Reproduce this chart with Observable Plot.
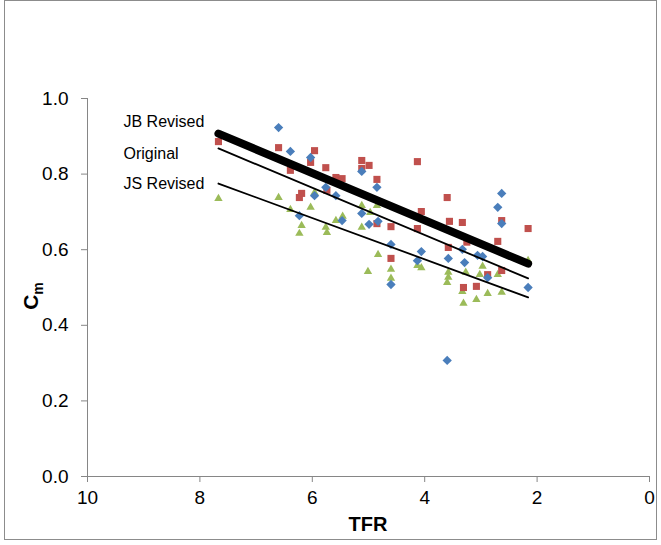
<!DOCTYPE html>
<html>
<head>
<meta charset="utf-8">
<script src="https://cdn.jsdelivr.net/npm/d3@7"></script>
<script src="https://cdn.jsdelivr.net/npm/@observablehq/plot@0.6"></script>
<style>
  body { margin: 0; background: #fff; }
  #wrap { position: relative; width: 661px; height: 545px; }
  #border { position: absolute; left: 4px; top: 0px; width: 653px; height: 540px; border: 1px solid #8c8c8c; box-sizing: border-box; pointer-events: none; }
  svg { display: block; }
</style>
</head>
<body>
<div id="wrap"></div>
<script>
// ---- data ----
const blueX = [6.60,6.39,6.03,6.23,5.76,5.58,5.96,5.47,5.12,5.12,4.85,4.99,4.83,4.60,4.60,4.06,4.13,3.58,3.33,3.29,3.06,2.97,2.88,2.16,2.63,2.70,2.63,3.60];
const blueY = [0.923,0.860,0.844,0.690,0.765,0.743,0.743,0.677,0.696,0.807,0.765,0.667,0.675,0.614,0.508,0.595,0.571,0.577,0.601,0.566,0.585,0.582,0.526,0.500,0.749,0.712,0.669,0.307];

const redX = [7.67,6.60,6.39,6.23,6.19,6.03,5.96,5.76,5.58,5.47,5.12,5.12,4.99,4.85,5.74,4.60,4.13,3.60,4.06,3.56,3.33,4.13,2.63,2.16,2.70,4.85,4.60,3.58,3.31,3.08,2.88,2.63,3.25];
const redY = [0.886,0.870,0.810,0.738,0.749,0.831,0.862,0.817,0.791,0.788,0.836,0.815,0.823,0.786,0.757,0.661,0.833,0.738,0.701,0.675,0.672,0.656,0.677,0.656,0.622,0.669,0.577,0.606,0.500,0.503,0.534,0.545,0.620];

const greenX = [7.67,6.60,6.39,6.19,6.23,6.03,5.96,5.76,5.74,5.58,5.46,5.12,4.97,4.85,5.12,4.83,5.01,4.60,4.60,4.13,4.06,3.58,3.58,3.60,3.33,3.31,3.27,3.08,3.02,2.97,2.88,2.70,2.63,2.16];
const greenY = [0.735,0.738,0.706,0.664,0.643,0.712,0.751,0.659,0.645,0.677,0.688,0.717,0.698,0.717,0.659,0.587,0.542,0.548,0.524,0.558,0.552,0.540,0.527,0.513,0.489,0.458,0.540,0.468,0.534,0.556,0.484,0.534,0.487,0.571];

// trend lines (start / end)
const lineNames = ["JB Revised", "Original", "JS Revised"];
const lineX = [7.67, 2.16];
const jbY = [0.907, 0.563];
const origY = [0.868, 0.524];
const jsY = [0.775, 0.474];
const labelY = [0.937, 0.854, 0.775];

const xTicks = [10, 8, 6, 4, 2, 0];
const yTicks = [0, 0.2, 0.4, 0.6, 0.8, 1.0];

// ---- build ----
const pts = (xs, ys) => xs.map((x, i) => ({x, y: ys[i]}));
const seg = (ys) => lineX.map((x, i) => ({x, y: ys[i]}));
const labels = lineNames.map((name, i) => ({name, y: labelY[i]}));

const font = "'Liberation Sans', Arial, sans-serif";
const axisColor = "#868686";

const plot = Plot.plot({
  width: 661,
  height: 545,
  marginLeft: 87,
  marginRight: 12,
  marginTop: 98,
  marginBottom: 69,
  style: { fontFamily: font, background: "transparent", color: "#000" },
  x: { domain: [10, 0] },
  y: { domain: [0, 1] },
  marks: [
    Plot.ruleX([10], { stroke: axisColor, strokeWidth: 1 }),
    Plot.ruleY([0], { stroke: axisColor, strokeWidth: 1 }),
    Plot.axisX({ ticks: xTicks, tickSize: 6, tickPadding: 8, fontSize: 19, stroke: axisColor, fill: "#000", label: null, tickFormat: d3.format("d") }),
    Plot.axisY({ ticks: yTicks, tickSize: 6, tickPadding: 13, fontSize: 19, stroke: axisColor, fill: "#000", label: null, tickFormat: d3.format(".1f") }),
    Plot.dot(pts(greenX, greenY), { x: "x", y: "y", symbol: "triangle", r: 3.1, fill: "#9BBB59", stroke: "none" }),
    Plot.dot(pts(redX, redY), { x: "x", y: "y", symbol: "square", r: 4, fill: "#C0504D", stroke: "none" }),
    Plot.dot(pts(blueX, blueY), { x: "x", y: "y", symbol: "diamond2", r: 4.2, fill: "#4A7EBB", stroke: "none" }),
    Plot.line(seg(jbY), { x: "x", y: "y", stroke: "#000", strokeWidth: 8, strokeLinecap: "round" }),
    Plot.line(seg(origY), { x: "x", y: "y", stroke: "#000", strokeWidth: 1.8 }),
    Plot.line(seg(jsY), { x: "x", y: "y", stroke: "#000", strokeWidth: 1.8 }),
    Plot.text(labels, { x: 9.36, y: "y", text: "name", textAnchor: "start", fontSize: 16, fill: "#000" })
  ]
});

const svg = d3.select(plot);
svg.append("text")
  .attr("x", 368).attr("y", 531)
  .attr("text-anchor", "middle")
  .attr("font-family", font).attr("font-weight", "bold").attr("font-size", 20)
  .text("TFR");
const yt = svg.append("text")
  .attr("transform", "translate(38,296) rotate(-90)")
  .attr("text-anchor", "middle")
  .attr("font-family", font).attr("font-weight", "bold").attr("font-size", 21);
yt.append("tspan").text("C");
yt.append("tspan").attr("font-size", 14).attr("dy", 5).text("m");

const wrap = document.getElementById("wrap");
wrap.appendChild(plot);
const border = document.createElement("div");
border.id = "border";
wrap.appendChild(border);
</script>
</body>
</html>
